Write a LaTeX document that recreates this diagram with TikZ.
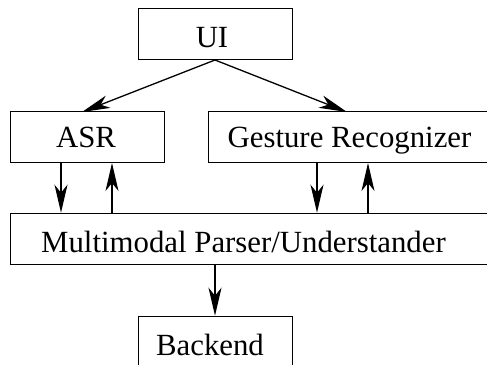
\documentclass[tikz,border=0pt]{standalone}
\usepackage{fontspec}
\setmainfont{Liberation Serif}
\usetikzlibrary{arrows.meta}
\begin{document}
\begin{tikzpicture}[x=1pt,y=1pt,
  box/.style={draw,line width=1.3pt,inner sep=0pt,anchor=south west},
  lbl/.style={inner sep=0pt,anchor=base,font=\fontsize{30.8}{36}\selectfont},
  conn/.style={line width=1.3pt,-{Stealth[length=28pt,width=13pt,inset=8pt]}}]
\useasboundingbox (0,0) rectangle (487,364);
\clip (0,0) rectangle (487,364);
% boxes (pixel coordinates, y flipped)
\node[box,minimum width=154pt,minimum height=51pt] (ui) at (138,304) {};
\node[box,minimum width=154pt,minimum height=51pt] (asr) at (10,201) {};
\node[box,minimum width=300pt,minimum height=51pt] (ges) at (208,201) {};
\node[box,minimum width=500pt,minimum height=51pt] (mm) at (10,99) {};
\node[box,minimum width=154pt,minimum height=60pt] (be) at (138,-13) {};
% labels
\node[lbl] (tui) at (212,316) {UI};
\node[lbl] (tasr) at (86,216) {ASR};
\node[lbl] (tges) at (349.5,216) {Gesture Recognizer};
\node[lbl] (tmm) at (243.5,111) {Multimodal Parser/Understander};
\node[lbl] (tbe) at (210,9) {Backend};
% connectors
\coordinate (uis) at (215,304);
\draw[conn] (uis) -- (82,252);
\draw[conn] (uis) -- (347,252);
\draw[conn] (asr.south west -| 61,0) -- (mm.north west -| 61,0);
\draw[conn] (mm.north west -| 112,0) -- (asr.south west -| 112,0);
\draw[conn] (ges.south west -| 317,0) -- (mm.north west -| 317,0);
\draw[conn] (mm.north west -| 368,0) -- (ges.south west -| 368,0);
\draw[conn] (mm.south west -| 215,0) -- (be.north west -| 215,0);
\end{tikzpicture}
\end{document}
